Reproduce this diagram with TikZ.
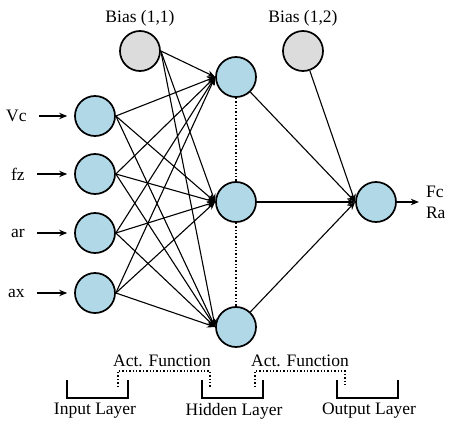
\documentclass[tikz,border=0pt]{standalone}
\usepackage{fontspec}
\setmainfont{Liberation Serif}
\usetikzlibrary{positioning, arrows.meta}
\definecolor{cellblue}{RGB}{176,216,230}
\definecolor{cellgray}{RGB}{220,220,220}
\tikzset{
>={Stealth[length=8pt, width=6.5pt]}, % sharp arrow heads
neuron/.style={circle, draw, line width=1.7pt, fill=cellblue, minimum size=40pt, inner sep=0pt}, % every unit
biasunit/.style={neuron, fill=cellgray}, % bias units are gray
wire/.style={->, line width=1.1pt}, % weighted links
every node/.style={font=\fontsize{17.5}{21}\selectfont},
}

\begin{document}
\begin{tikzpicture}[x=1pt, y=-1pt]
\useasboundingbox (0,0) rectangle (450,425);
% units
\node[biasunit] (b1) at (140,51) {};
\node[biasunit] (b2) at (303,51) {};
\node[neuron] (in1) at (95,116) {};
\node[neuron] (in2) at (95,174) {};
\node[neuron] (in3) at (95,233) {};
\node[neuron] (in4) at (95,293) {};
\node[neuron] (h1) at (236,77) {};
\node[neuron] (h2) at (236,202) {};
\node[neuron] (h3) at (236,327) {};
\node[neuron] (out) at (376,202) {};
% texts
\node[above=0pt of b1] (tb1) {Bias (1,1)};
\node[above=0pt of b2] (tb2) {Bias (1,2)};
\node[left=44pt of in1] (lvc) {Vc};
\node[left=46pt of in2] (lfz) {fz};
\node[left=46pt of in3] (lar) {ar};
\node[left=46pt of in4] (lax) {ax};
\node[right=27pt of out, align=left, inner sep=2pt] (lout) {Fc\\Ra};
% links
\foreach \s in {b1,in1,in2,in3,in4}
  \foreach \t in {h1,h2,h3}
    \draw[wire] (\s.east) -- (\t.west);
\foreach \s in {h1,h2,h3,b2}
  \draw[wire] (\s) -- (out.west);
\draw[dotted, line width=1.4pt] (h1) -- (h2);
\draw[dotted, line width=1.4pt] (h2) -- (h3);
% inputs and output
\foreach \l/\n in {lvc/in1,lfz/in2,lar/in3,lax/in4}
  \draw[wire, shorten <=9pt, shorten >=7pt] (\l.east) -- (\n.west);
\draw[wire, shorten >=5pt] (out) -- (lout.west);
% layers
\draw[line width=1.5pt] (67,380) |- (128,398) -- (128,380);
\draw[line width=1.5pt] (202,380) |- (263,398) -- (263,380);
\draw[line width=1.5pt] (337,380) |- (398,398) -- (398,380);
\draw[dotted, line width=1.4pt] (118,387) |- (210,371) -- (210,387);
\draw[dotted, line width=1.4pt] (255,387) |- (345,371) -- (345,387);
\node (act1) at (162,361) {Act. Function};
\node (act2) at (300,361) {Act. Function};
\node (lin) at (95,411) {Input Layer};
\node (lhid) at (234,411) {Hidden Layer};
\node (lop) at (369,411) {Output Layer};
\end{tikzpicture}
\end{document}
